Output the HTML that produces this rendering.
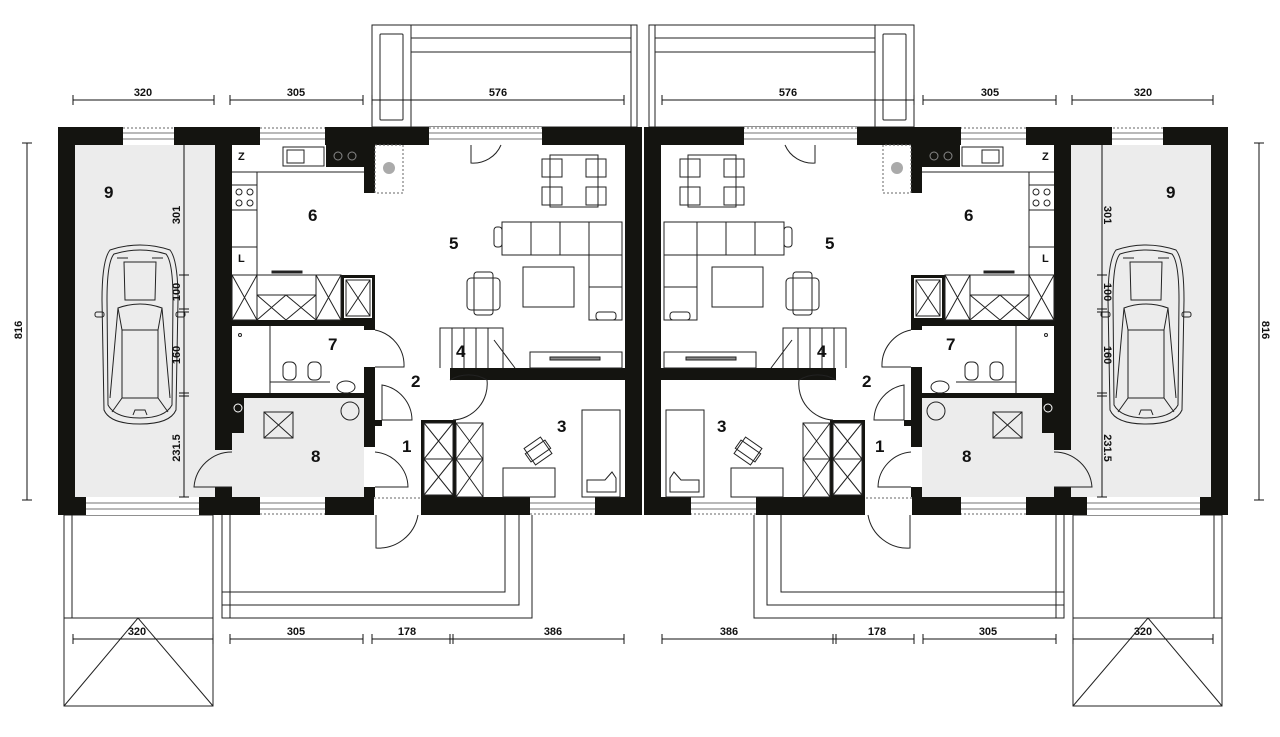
<!DOCTYPE html>
<html><head><meta charset="utf-8"><style>
html,body{margin:0;padding:0;background:#fff;width:1280px;height:737px;overflow:hidden}
svg{display:block}
text{font-family:"Liberation Sans",sans-serif;font-weight:bold;fill:#111}
.n{font-size:17px}
.d{font-size:11px}
</style></head><body>
<svg width="1280" height="737" viewBox="0 0 1280 737" xmlns="http://www.w3.org/2000/svg">
<defs>
<g id="L" fill="none" stroke="#222" stroke-width="1">
  <rect x="75" y="145" width="140" height="352" fill="#ececec" stroke="none"/>
  <rect x="232" y="398" width="132" height="99" fill="#ececec" stroke="none"/>
  <rect x="195" y="450" width="37" height="37" fill="#ececec" stroke="none"/>
  <rect x="372" y="25" width="265" height="102"/>
  <rect x="380" y="34" width="23" height="86" rx="1"/>
  <line x1="411" y1="25" x2="411" y2="127"/>
  <line x1="411" y1="38" x2="631" y2="38"/>
  <line x1="411" y1="52" x2="631" y2="52"/>
  <line x1="631" y1="25" x2="631" y2="127"/>
  <rect x="64" y="515" width="149" height="103"/>
  <line x1="72" y1="515" x2="72" y2="618"/>
  <rect x="64" y="618" width="149" height="88"/>
  <polyline points="64,706 138,618 213,706"/>
  <polyline points="222,515 222,618 532,618 532,515"/>
  <polyline points="222,605 519,605 519,515"/>
  <polyline points="222,592 505,592 505,515"/>
  <line x1="230" y1="515" x2="230" y2="618"/>
  <g fill="#141410" stroke="none">
    <rect x="58" y="127" width="584" height="18"/>
    <rect x="58" y="497" width="584" height="18"/>
    <rect x="58" y="127" width="17" height="388"/>
    <rect x="215" y="127" width="17" height="323"/>
    <rect x="215" y="487" width="17" height="28"/>
    <rect x="625" y="127" width="17" height="388"/>
    <rect x="364" y="145" width="11" height="48"/>
    <rect x="232" y="320" width="143" height="6"/>
    <rect x="364" y="320" width="11" height="10"/>
    <rect x="364" y="367" width="11" height="80"/>
    <rect x="375" y="420" width="7" height="6"/>
    <rect x="364" y="487" width="11" height="10"/>
    <rect x="232" y="393" width="132" height="5"/>
    <rect x="450" y="368" width="175" height="12"/>
    <rect x="421" y="420" width="35" height="77"/>
    <rect x="341" y="275" width="34" height="45"/>
    <rect x="326" y="145" width="38" height="22"/>
    <rect x="232" y="398" width="12" height="35"/>
  </g>
  <g fill="#fff" stroke="none">
    <rect x="123" y="127" width="51" height="18"/>
    <rect x="260" y="127" width="65" height="18"/>
    <rect x="429" y="127" width="113" height="18"/>
    <rect x="86" y="497" width="113" height="18"/>
    <rect x="260" y="497" width="65" height="18"/>
    <rect x="530" y="497" width="65" height="18"/>
    <rect x="374" y="497" width="47" height="18"/>
    <rect x="215" y="450" width="17" height="37" fill="#ececec"/>
    <rect x="364" y="447" width="11" height="40"/>
    <rect x="364" y="330" width="11" height="37"/>
    <rect x="424" y="423" width="29" height="72"/>
    <rect x="344" y="278" width="28" height="40"/>
  </g>
  <g stroke="#444" stroke-width="0.8">
    <line x1="123" y1="133" x2="174" y2="133"/><line x1="123" y1="139" x2="174" y2="139"/>
    <line x1="260" y1="133" x2="325" y2="133"/><line x1="260" y1="139" x2="325" y2="139"/>
    <line x1="429" y1="133" x2="542" y2="133"/><line x1="429" y1="139" x2="542" y2="139"/>
    <line x1="86" y1="503" x2="199" y2="503"/><line x1="86" y1="509" x2="199" y2="509"/>
    <line x1="260" y1="503" x2="325" y2="503"/><line x1="260" y1="509" x2="325" y2="509"/>
    <line x1="530" y1="503" x2="595" y2="503"/><line x1="530" y1="509" x2="595" y2="509"/>
  </g>
  <g stroke="#666" stroke-dasharray="2,2">
    <line x1="123" y1="128" x2="174" y2="128"/><line x1="260" y1="128" x2="325" y2="128"/>
    <line x1="429" y1="128" x2="542" y2="128"/><line x1="374" y1="498" x2="421" y2="498"/>
    <line x1="260" y1="514" x2="325" y2="514"/><line x1="530" y1="514" x2="595" y2="514"/>
    <rect x="375" y="145" width="28" height="48"/>
  </g>
  <circle cx="389" cy="168" r="6" fill="#aaa" stroke="none"/>
  <path d="M471,145 L471,163 A30,30 0 0 0 501,145"/>
  <path d="M375,330 A36,36 0 0 1 404,367 L375,367"/>
  <path d="M382,385 A36,36 0 0 1 412,420 L382,420 Z" fill="none"/>
  <path d="M375,452 A36,36 0 0 1 408,487 L375,487"/>
  <path d="M232,452 A38,38 0 0 0 194,487 L232,487"/>
  <path d="M450,380 A36,36 0 0 1 487,380"/>
  <path d="M487,380 A36,36 0 0 1 453,420"/>
  <path d="M376,515 L376,548 A40,40 0 0 0 418,515"/>
  <line x1="232" y1="172" x2="364" y2="172"/>
  <line x1="257" y1="172" x2="257" y2="275"/>
  <line x1="232" y1="185" x2="257" y2="185"/><line x1="232" y1="210" x2="257" y2="210"/>
  <circle cx="239" cy="192" r="3"/><circle cx="250" cy="192" r="3"/><circle cx="239" cy="203" r="3"/><circle cx="250" cy="203" r="3"/>
  <line x1="232" y1="247" x2="257" y2="247"/>
  <rect x="283" y="147" width="41" height="19"/><rect x="287" y="150" width="17" height="13"/>
  <circle cx="338" cy="156" r="4" stroke="#888"/><circle cx="352" cy="156" r="4" stroke="#888"/>
  <line x1="232" y1="275" x2="341" y2="275"/>
  <line x1="257" y1="295" x2="316" y2="295"/>
  <rect x="232" y="275" width="25" height="45"/><path d="M232,275 L257,320 M257,275 L232,320"/>
  <rect x="316" y="275" width="25" height="45"/><path d="M316,275 L341,320 M341,275 L316,320"/>
  <path d="M257,295 L286,320 M286,295 L257,320 M286,295 L316,320 M316,295 L286,320"/>
  <path d="M346,280 L370,316 M370,280 L346,316"/><rect x="346" y="280" width="24" height="36"/>
  <rect x="272" y="271" width="30" height="2" fill="#222"/>
  <line x1="270" y1="326" x2="270" y2="393"/>
  <line x1="270" y1="382" x2="330" y2="382"/>
  <rect x="283" y="362" width="13" height="18" rx="5"/><rect x="308" y="362" width="13" height="18" rx="5"/>
  <ellipse cx="346" cy="387" rx="9" ry="6"/>
  <circle cx="240" cy="335" r="1.5"/>
  <circle cx="350" cy="411" r="9"/>
  <rect x="264" y="412" width="29" height="26"/><path d="M264,412 L293,438 M293,412 L264,438"/>
  <circle cx="238" cy="408" r="4" stroke="#fff"/>
  <rect x="550" y="155" width="48" height="52"/>
  <rect x="542" y="159" width="20" height="18"/><rect x="586" y="159" width="20" height="18"/>
  <rect x="542" y="187" width="20" height="18"/><rect x="586" y="187" width="20" height="18"/>
  <rect x="494" y="227" width="8" height="20" rx="3"/>
  <path d="M502,222 L622,222 L622,320 L589,320 L589,255 L502,255 Z"/>
  <line x1="531" y1="222" x2="531" y2="255"/><line x1="560" y1="222" x2="560" y2="255"/><line x1="589" y1="222" x2="589" y2="255"/>
  <line x1="589" y1="255" x2="622" y2="255"/><line x1="589" y1="287" x2="622" y2="287"/>
  <rect x="596" y="312" width="20" height="8" rx="3"/>
  <rect x="523" y="267" width="51" height="40"/>
  <rect x="467" y="278" width="33" height="32" rx="4"/><rect x="474" y="272" width="19" height="43" rx="3"/>
  <path d="M440,368 L440,328 L503,328 L503,368"/>
  <line x1="452" y1="328" x2="452" y2="368"/><line x1="464" y1="328" x2="464" y2="368"/><line x1="476" y1="328" x2="476" y2="368"/><line x1="488" y1="328" x2="488" y2="368"/>
  <line x1="494" y1="340" x2="515" y2="368"/>
  <rect x="530" y="352" width="92" height="16"/>
  <rect x="550" y="357" width="50" height="3" fill="#888"/>
  <rect x="424" y="423" width="29" height="72"/>
  <path d="M424,423 L453,459 M453,423 L424,459 M424,459 L453,495 M453,459 L424,495"/><line x1="424" y1="459" x2="453" y2="459"/>
  <rect x="456" y="423" width="27" height="74"/>
  <path d="M456,423 L483,459 M483,423 L456,459 M456,459 L483,497 M483,459 L456,497"/><line x1="456" y1="459" x2="483" y2="459"/>
  <rect x="503" y="468" width="52" height="29"/>
  <rect x="582" y="410" width="38" height="87"/>
  <path d="M587,492 L587,480 L605,480 L612,472 L616,478 L616,492 Z"/>
  <g transform="rotate(-35 538 451)"><rect x="528" y="441" width="20" height="20"/><rect x="526" y="446" width="24" height="10"/></g>
  <g stroke="#222">
    <path d="M110,250 Q140,240 170,250 Q178,260 178,300 L176,410 Q170,424 140,424 Q110,424 104,410 L102,300 Q102,260 110,250 Z"/>
    <path d="M114,254 Q140,246 166,254 Q173,262 173,300 L172,405 Q165,418 140,418 Q115,418 108,405 L107,300 Q107,262 114,254 Z"/>
    <path d="M124,262 L156,262 L155,300 L125,300 Z"/>
    <path d="M118,308 Q140,300 162,308 L158,330 L122,330 Z"/>
    <path d="M122,330 L122,398 L158,398 L158,330"/>
    <path d="M118,308 L110,398 M162,308 L170,398"/>
    <path d="M122,398 L112,412 M158,398 L168,412"/>
    <rect x="95" y="312" width="9" height="5" rx="2"/><rect x="176" y="312" width="9" height="5" rx="2"/>
    <line x1="117" y1="258" x2="128" y2="258"/><line x1="152" y1="258" x2="163" y2="258"/>
    <path d="M133,415 L135,410 L145,410 L147,415"/>
  </g>
  <g stroke="#111">
    <line x1="73" y1="100" x2="214" y2="100"/><line x1="73" y1="95" x2="73" y2="105"/><line x1="214" y1="95" x2="214" y2="105"/>
    <line x1="230" y1="100" x2="363" y2="100"/><line x1="230" y1="95" x2="230" y2="105"/><line x1="363" y1="95" x2="363" y2="105"/>
    <line x1="372" y1="100" x2="624" y2="100"/><line x1="372" y1="95" x2="372" y2="105"/><line x1="624" y1="95" x2="624" y2="105"/>
    <line x1="73" y1="639" x2="213" y2="639"/><line x1="73" y1="634" x2="73" y2="644"/><line x1="213" y1="634" x2="213" y2="644"/>
    <line x1="230" y1="639" x2="363" y2="639"/><line x1="230" y1="634" x2="230" y2="644"/><line x1="363" y1="634" x2="363" y2="644"/>
    <line x1="372" y1="639" x2="624" y2="639"/><line x1="372" y1="634" x2="372" y2="644"/><line x1="450" y1="634" x2="450" y2="644"/><line x1="453" y1="634" x2="453" y2="644"/><line x1="624" y1="634" x2="624" y2="644"/>
    <line x1="27" y1="143" x2="27" y2="500"/><line x1="22" y1="143" x2="32" y2="143"/><line x1="22" y1="500" x2="32" y2="500"/>
    <line x1="184" y1="145" x2="184" y2="497"/>
    <line x1="179" y1="275" x2="189" y2="275"/><line x1="179" y1="309" x2="189" y2="309"/><line x1="179" y1="312" x2="189" y2="312"/>
    <line x1="179" y1="393" x2="189" y2="393"/><line x1="179" y1="396" x2="189" y2="396"/><line x1="179" y1="497" x2="189" y2="497"/>
  </g>
</g>
</defs>
<use href="#L"/>
<use href="#L" transform="translate(1286,0) scale(-1,1)"/>
<line x1="643" y1="129" x2="643" y2="513" stroke="#fff" stroke-width="1"/>
<g>
<text x="104" y="198" class="n">9</text>
<text x="308" y="221" class="n">6</text>
<text x="449" y="249" class="n">5</text>
<text x="328" y="350" class="n">7</text>
<text x="456" y="357" class="n">4</text>
<text x="411" y="387" class="n">2</text>
<text x="402" y="452" class="n">1</text>
<text x="311" y="462" class="n">8</text>
<text x="557" y="432" class="n">3</text>
<text x="1166" y="198" class="n">9</text>
<text x="964" y="221" class="n">6</text>
<text x="825" y="249" class="n">5</text>
<text x="946" y="350" class="n">7</text>
<text x="817" y="357" class="n">4</text>
<text x="862" y="387" class="n">2</text>
<text x="875" y="452" class="n">1</text>
<text x="962" y="462" class="n">8</text>
<text x="717" y="432" class="n">3</text>
</g>
<text x="238" y="160" style="font-size:11px">Z</text>
<text x="238" y="262" style="font-size:11px">L</text>
<text x="1042" y="160" style="font-size:11px">Z</text>
<text x="1042" y="262" style="font-size:11px">L</text>
<g text-anchor="middle">
<text x="143" y="96" class="d">320</text><text x="296" y="96" class="d">305</text><text x="498" y="96" class="d">576</text>
<text x="788" y="96" class="d">576</text><text x="990" y="96" class="d">305</text><text x="1143" y="96" class="d">320</text>
<text x="137" y="635" class="d">320</text><text x="296" y="635" class="d">305</text><text x="407" y="635" class="d">178</text><text x="553" y="635" class="d">386</text>
<text x="729" y="635" class="d">386</text><text x="877" y="635" class="d">178</text><text x="988" y="635" class="d">305</text><text x="1143" y="635" class="d">320</text>
<text transform="translate(22,330) rotate(-90)" class="d">816</text>
<text transform="translate(180,215) rotate(-90)" class="d">301</text>
<text transform="translate(180,292) rotate(-90)" class="d">100</text>
<text transform="translate(180,355) rotate(-90)" class="d">160</text>
<text transform="translate(180,448) rotate(-90)" class="d">231.5</text>
<text transform="translate(1262,330) rotate(90)" class="d">816</text>
<text transform="translate(1104,215) rotate(90)" class="d">301</text>
<text transform="translate(1104,292) rotate(90)" class="d">100</text>
<text transform="translate(1104,355) rotate(90)" class="d">160</text>
<text transform="translate(1104,448) rotate(90)" class="d">231.5</text>
</g>
</svg>
</body></html>
